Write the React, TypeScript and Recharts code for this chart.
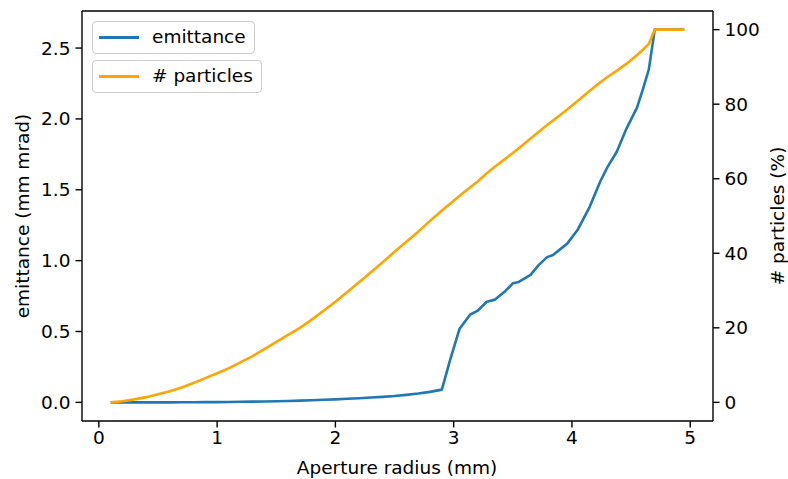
import React from 'react';
import { LineChart, Line, XAxis, YAxis, Legend, Label, ReferenceLine } from 'recharts';

const radius = [0.1, 0.2, 0.3, 0.4, 0.5, 0.6, 0.7, 0.8, 0.9, 1.0, 1.1, 1.2, 1.3, 1.4, 1.5, 1.6, 1.7, 1.8, 1.9, 2.0, 2.1, 2.2, 2.3, 2.4, 2.5, 2.6, 2.7, 2.8, 2.9, 2.97, 3.05, 3.14, 3.2, 3.28, 3.35, 3.43, 3.5, 3.55, 3.65, 3.72, 3.79, 3.84, 3.96, 4.05, 4.15, 4.24, 4.3, 4.38, 4.46, 4.55, 4.6, 4.65, 4.7, 4.8, 4.95];
const emittance = [0, 0, 0, 0, 0, 0, 0.001, 0.001, 0.002, 0.002, 0.003, 0.004, 0.005, 0.006, 0.008, 0.01, 0.012, 0.015, 0.018, 0.021, 0.025, 0.029, 0.034, 0.039, 0.045, 0.053, 0.062, 0.074, 0.09, 0.3, 0.52, 0.62, 0.645, 0.71, 0.725, 0.78, 0.84, 0.85, 0.9, 0.97, 1.025, 1.04, 1.12, 1.22, 1.38, 1.56, 1.66, 1.77, 1.93, 2.08, 2.21, 2.35, 2.63, 2.63, 2.63];
const particles = [0, 0.3, 0.8, 1.4, 2.2, 3.0, 4.0, 5.2, 6.5, 7.8, 9.2, 10.8, 12.4, 14.3, 16.2, 18.1, 20.0, 22.2, 24.6, 27.0, 29.6, 32.2, 34.9, 37.6, 40.4, 43.1, 45.8, 48.7, 51.5, 53.3, 55.4, 57.7, 59.2, 61.5, 63.3, 65.2, 66.9, 68.2, 70.8, 72.6, 74.4, 75.6, 78.6, 80.9, 83.6, 85.9, 87.3, 89.0, 90.8, 93.2, 94.6, 96.2, 100, 100, 100];
const xTicks = [0, 1, 2, 3, 4, 5];
const leftTicks = [0, 0.5, 1, 1.5, 2, 2.5];
const rightTicks = [0, 20, 40, 60, 80, 100];

const data = radius.map((x, i) => ({ x, emit: emittance[i], part: particles[i] }));

const FONT = 'DejaVu Sans, sans-serif';
const FS = 18.5;
const tickStyle = { fill: '#000', fontSize: FS, fontFamily: FONT };
const LEFT_DOMAIN: [number, number] = [-0.1315, 2.7615];

const legendItems = [
  { label: 'emittance', color: '#1f77b4', width: 163 },
  { label: '# particles', color: 'orange', width: 170 },
];

const LegendContent = () => (
  <div style={{ fontFamily: FONT, fontSize: FS }}>
    {legendItems.map((it, i) => (
      <div
        key={it.label}
        style={{
          width: it.width,
          height: 33,
          boxSizing: 'border-box',
          border: '1px solid #cccccc',
          borderRadius: 4,
          background: 'rgba(255,255,255,0.8)',
          marginBottom: i === 0 ? 6 : 0,
          position: 'relative',
        }}
      >
        <div style={{ position: 'absolute', left: 6, top: 14, width: 40, height: 2.6, background: it.color }} />
        <span style={{ position: 'absolute', left: 59, top: 3, lineHeight: '24px', color: '#000', whiteSpace: 'nowrap' }}>{it.label}</span>
      </div>
    ))}
  </div>
);

const AxisTitle = ({ x, y, angle, text }: { x: number; y: number; angle: number; text: string }) => (
  <text
    x={x}
    y={y}
    textAnchor="middle"
    dominantBaseline="central"
    transform={angle ? `rotate(${angle} ${x} ${y})` : undefined}
    style={{ fontFamily: FONT, fontSize: FS, fill: '#000' }}
  >
    {text}
  </text>
);

export default function App() {
  return (
    <div style={{ position: 'absolute', left: 0, top: 0, width: 788, height: 479, background: '#fff' }}>
      <LineChart width={788} height={479} data={data} margin={{ top: 11, right: 0, bottom: 0, left: 0 }}>
        <XAxis
          dataKey="x"
          type="number"
          domain={[-0.1425, 5.1925]}
          ticks={xTicks}
          interval={0}
          allowDataOverflow
          height={58}
          tickSize={6.5}
          tickMargin={3}
          stroke="#000"
          strokeWidth={1.4}
          tick={tickStyle}
        >
          <Label content={() => <AxisTitle x={397} y={467} angle={0} text="Aperture radius (mm)" />} />
        </XAxis>
        <YAxis
          yAxisId="left"
          type="number"
          domain={LEFT_DOMAIN}
          ticks={leftTicks}
          interval={0}
          allowDataOverflow
          width={82}
          tickSize={6.5}
          tickMargin={5}
          tickFormatter={(v: number) => v.toFixed(1)}
          stroke="#000"
          strokeWidth={1.4}
          tick={tickStyle}
        >
          <Label content={() => <AxisTitle x={22} y={216} angle={-90} text="emittance (mm mrad)" />} />
        </YAxis>
        <YAxis
          yAxisId="right"
          orientation="right"
          type="number"
          domain={[-5, 105]}
          ticks={rightTicks}
          interval={0}
          allowDataOverflow
          width={75}
          tickSize={6.5}
          tickMargin={5}
          stroke="#000"
          strokeWidth={1.4}
          tick={tickStyle}
        >
          <Label content={() => <AxisTitle x={777} y={216} angle={-90} text="# particles (%)" />} />
        </YAxis>
        <ReferenceLine yAxisId="left" y={LEFT_DOMAIN[1]} stroke="#000" strokeWidth={1.4} ifOverflow="extendDomain" />
        <Legend
          layout="horizontal"
          align="center"
          verticalAlign="middle"
          content={<LegendContent />}
          wrapperStyle={{ position: 'absolute', left: 92, top: 21, width: 'auto', height: 'auto' }}
        />
        <Line
          yAxisId="left"
          dataKey="emit"
          name="emittance"
          stroke="#1f77b4"
          strokeWidth={2.6}
          dot={false}
          isAnimationActive={false}
          strokeLinejoin="round"
        />
        <Line
          yAxisId="right"
          dataKey="part"
          name="# particles"
          stroke="orange"
          strokeWidth={2.6}
          dot={false}
          isAnimationActive={false}
          strokeLinejoin="round"
        />
      </LineChart>
    </div>
  );
}
